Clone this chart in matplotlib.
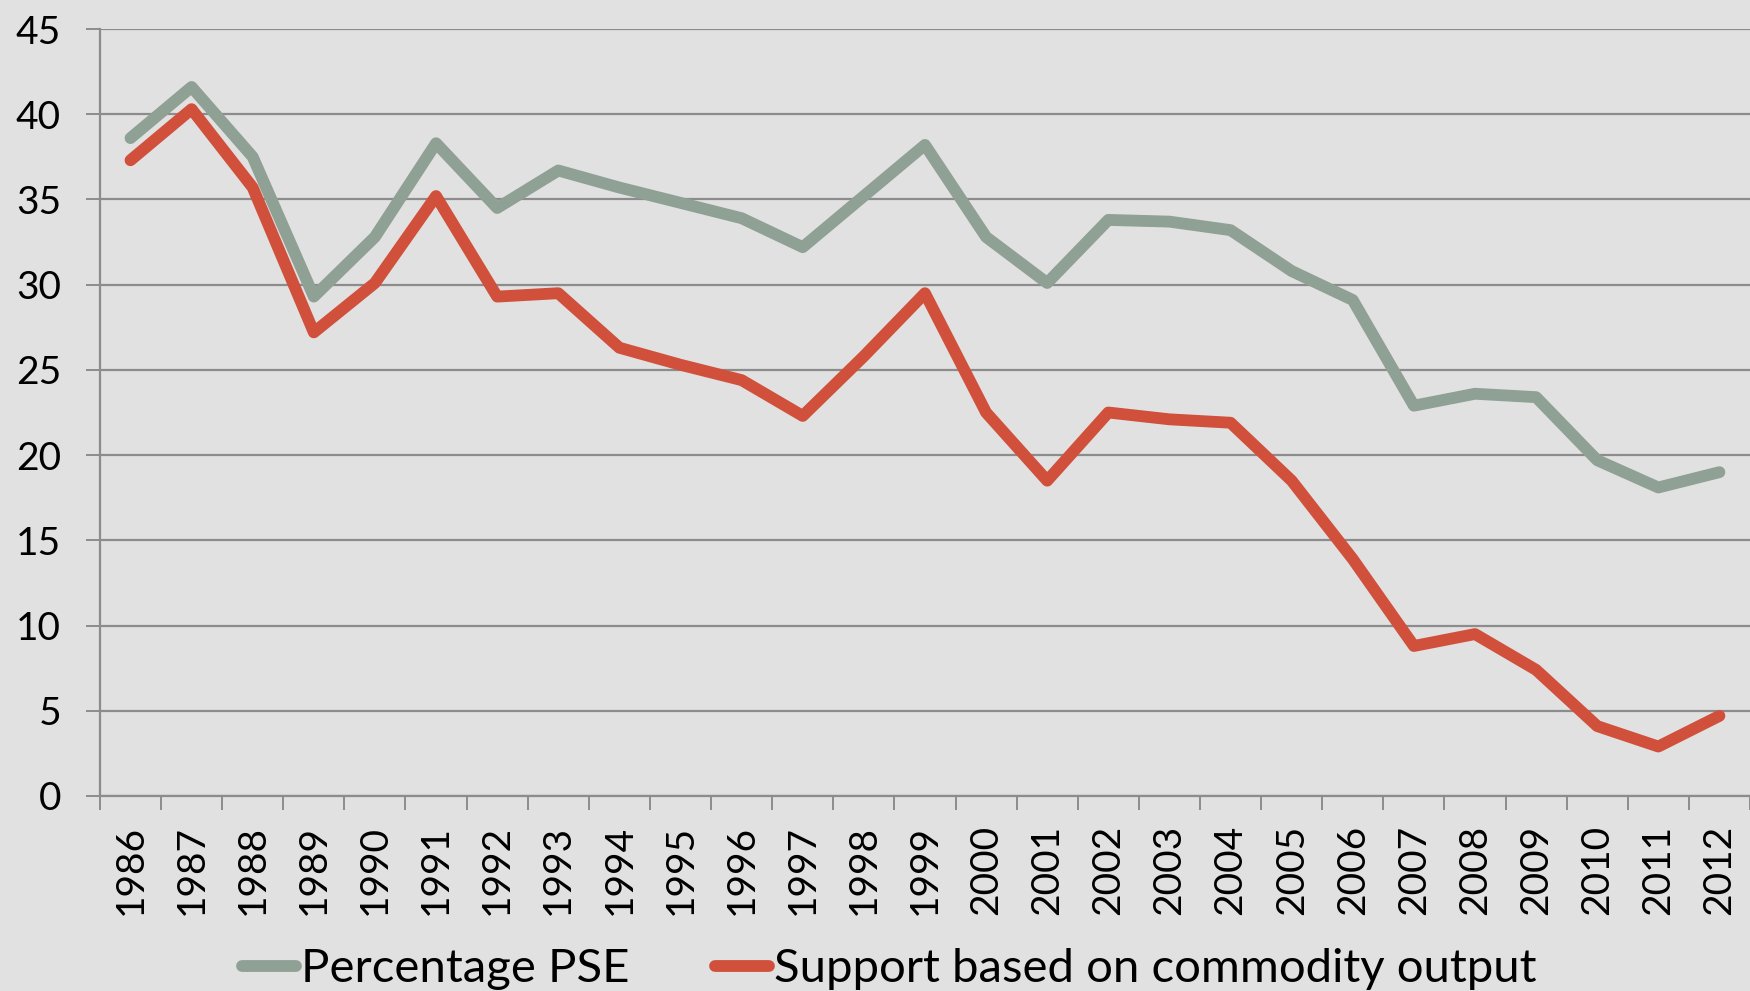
"""Percentage PSE vs support based on commodity output, 1986-2012."""

import matplotlib

matplotlib.use("Agg")
import matplotlib.pyplot as plt
from matplotlib.ticker import FixedLocator, NullFormatter

years = [str(y) for y in range(1986, 2013)]
pse_pct = [38.6, 41.6, 37.5, 29.3, 32.8, 38.3, 34.5, 36.7, 35.7, 34.8, 33.9, 32.2, 35.2, 38.2,
           32.8, 30.1, 33.8, 33.7, 33.2, 30.8, 29.1, 22.9, 23.6, 23.4, 19.7, 18.1, 19.0]
commodity_support = [37.3, 40.3, 35.7, 27.2, 30.1, 35.2, 29.3, 29.5, 26.3, 25.3, 24.4, 22.3, 25.8, 29.5,
                     22.5, 18.5, 22.5, 22.1, 21.9, 18.5, 13.9, 8.8, 9.5, 7.4, 4.1, 2.9, 4.7]
series_labels = ["Percentage PSE", "Support based on commodity output"]
series_colors = ["#8fa095", "#d0503c"]

BG = "#e1e1e1"
GRID = "#8c8c8c"

plt.rcParams["font.family"] = ["Lato", "DejaVu Sans"]

fig = plt.figure(figsize=(17.5, 9.91), dpi=100, facecolor=BG)
ax = fig.add_axes([0.0571, 0.1968, 0.9429, 0.7739])
ax.set_facecolor(BG)

x = list(range(len(years)))
for values, label, color in zip([pse_pct, commodity_support], series_labels, series_colors):
    ax.plot(x, values, color=color, lw=8.5, label=label,
            solid_capstyle="round", solid_joinstyle="round")

ax.set_ylim(0, 45)
ax.set_yticks(range(0, 46, 5))
ax.set_xlim(-0.5, len(years) - 0.5)

# category boundaries get the tick marks, labels sit in between
ax.xaxis.set_major_locator(FixedLocator([i - 0.5 for i in range(len(years) + 1)]))
ax.xaxis.set_major_formatter(NullFormatter())
ax.xaxis.set_minor_locator(FixedLocator(x))
ax.set_xticklabels(years, minor=True, rotation=90, fontsize=28)

ax.grid(axis="y", color=GRID, lw=1.6)
ax.set_axisbelow(True)
for side in ["top", "right"]:
    ax.spines[side].set_visible(False)
for side in ["left", "bottom"]:
    ax.spines[side].set_color(GRID)
    ax.spines[side].set_linewidth(1.6)

ax.tick_params(axis="y", which="major", length=10, width=1.4, color=GRID, pad=18,
               labelsize=28, labelcolor="black")
ax.tick_params(axis="x", which="major", length=10, width=1.4, color=GRID, direction="out")
ax.tick_params(axis="x", which="minor", length=0, pad=21, labelsize=28, labelcolor="black")

fig.legend(loc="center", bbox_to_anchor=(0.508, 0.022), ncol=2, frameon=False,
           fontsize=34, handlelength=1.15, handletextpad=0.1, columnspacing=1.8)

fig.savefig("out.png", dpi=100, facecolor=BG)
